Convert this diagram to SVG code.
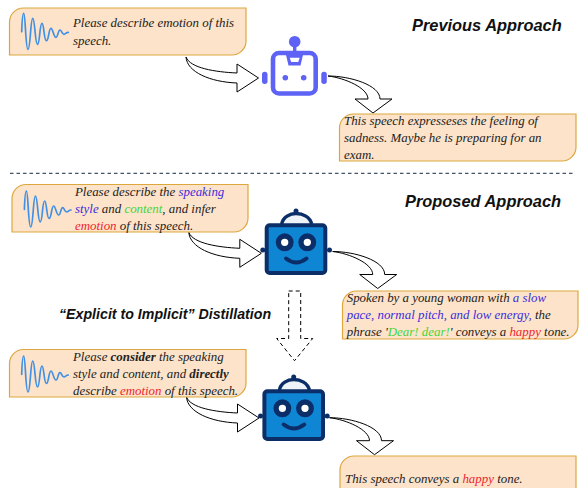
<svg xmlns="http://www.w3.org/2000/svg" xmlns:xlink="http://www.w3.org/1999/xlink" width="580" height="488" viewBox="0 0 580 488">
<style>
.box{fill:#fde3c9;stroke:#dca83e;stroke-width:1.2}
.t{font-family:"Liberation Serif","Times New Roman",serif;font-style:italic;font-size:12.9px;fill:#222}
.h{font-family:"Liberation Sans",Arial,sans-serif;font-style:italic;font-weight:bold;font-size:16.4px;fill:#111}
.h2{font-size:14.2px}
.b{fill:#3a2ddf}.g{fill:#3fd63f}.r{fill:#ee2530}.k{font-weight:bold}
.wave{fill:none;stroke:#4190e6;stroke-width:1.7;stroke-linejoin:round;stroke-linecap:round}
.arrow{fill:#fff;stroke:#000;stroke-width:1;stroke-linejoin:miter}
.dk{fill:#0b2e68}
.pu{fill:#5e63f5}
</style>
<defs>
<path id="wave" class="wave" d="M21.7,31.7 C22,22 22.500,13.300 23.700,13.300 C25.500,13.300 25.500,49.300 28,49.300 C30.500,49.300 30.500,18.300 32.700,18.300 C35,18.300 35,44.300 37.500,44.300 C40,44.300 39.500,23.300 42,23.300 C44,23.300 44,40.700 46.300,40.700 C49,40.700 48.500,28.300 51,28.300 C53,28.300 53.500,37.300 56,37.300 C58,37.300 58,30 60,30 C61.500,30 62,34.300 64,34.300 C65.500,34.300 66,32.300 68.300,32.300"/>
<path id="arrR" class="arrow" d="M186,57 C190,68 215,72 237,73 L237,64 L258.500,78 L237,92 L237,83 C210,82 187,72 186,57 Z"/>
<path id="arrD" class="arrow" d="M328,76 C350,76 380,85 380,99 L392,99 L373,113 L355,99 L368,99 C368,88 345,78 328,76 Z"/>
<g id="bot2">
<path d="M281.700,224 C283,217 290,213.500 296,213.500 C303,213.500 310,217 311.700,224" fill="#eef3f8" stroke="#0b2e68" stroke-width="3.500"/>
<circle class="dk" cx="296" cy="211" r="2.500"/>
<circle class="dk" cx="262.800" cy="250" r="2.500"/>
<circle class="dk" cx="329.500" cy="250" r="2.500"/>
<rect x="266.700" y="225.300" width="58.600" height="47.700" rx="3" fill="#0f86d4" stroke="#0b2e68" stroke-width="4"/>
<circle cx="284.700" cy="242.300" r="6.300" fill="#fff" stroke="#0b2e68" stroke-width="5.300"/>
<circle cx="307.300" cy="242.300" r="6.300" fill="#fff" stroke="#0b2e68" stroke-width="5.300"/>
<path d="M286,258.500 Q296.300,266.500 306.500,258.500" fill="none" stroke="#0b2e68" stroke-width="4" stroke-linecap="round"/>
</g>
</defs>

<g id="connectors">
<use xlink:href="#arrR"/>
<use xlink:href="#arrD"/>
<line x1="10" y1="173.300" x2="573" y2="173.300" stroke="#44546a" stroke-width="1.300" stroke-dasharray="3.500 3"/>
<use xlink:href="#arrR" transform="translate(2.800,175.300)"/>
<use xlink:href="#arrD" transform="translate(4.700,175.500)"/>
<path class="arrow" stroke-dasharray="4 3" d="M288.700,291 H300.700 V338.500 H312.700 L294.500,360.700 L276.700,338.500 H288.700 Z"/>
<use xlink:href="#arrR" transform="translate(0.500,340)"/>
<use xlink:href="#arrD" transform="translate(1.500,341.700)"/>
</g>

<g id="prompt-previous">
<path class="box" d="M23.500,8 H246 V41 A14,14 0 0 1 232,55 H9.500 V22 A14,14 0 0 1 23.500,8 Z"/>
<use xlink:href="#wave"/>
<text class="t" x="73" y="27">Please describe emotion of this</text>
<text class="t" x="73" y="45">speech.</text>
</g>

<g id="robot-previous">
<circle class="pu" cx="294.700" cy="41.700" r="5.800"/>
<rect class="pu" x="293" y="45" width="3.400" height="8"/>
<rect x="273" y="53" width="42.700" height="40.500" rx="6" fill="#fff" stroke="#5e63f5" stroke-width="4.600"/>
<path class="pu" d="M285.300,52 H303.700 L300.500,65.500 H288.500 Z"/>
<path fill="#fff" d="M289.700,57.800 H299.700 L298.200,62 H291.200 Z"/>
<circle class="pu" cx="285.300" cy="77.700" r="2.800"/>
<circle class="pu" cx="303.700" cy="77.700" r="2.800"/>
<rect class="pu" x="262" y="71.700" width="5.500" height="12.300" rx="2.700"/>
<rect class="pu" x="321.300" y="71.700" width="5.500" height="12.300" rx="2.700"/>
</g>

<g id="output-previous">
<path class="box" d="M353.500,114 H576 V147 A14,14 0 0 1 562,161 H339.500 V128 A14,14 0 0 1 353.500,114 Z"/>
<text class="t" x="344" y="125">This speech expresseses the feeling of</text>
<text class="t" x="344" y="142.300">sadness. Maybe he is preparing for an</text>
<text class="t" x="344" y="159.300">exam.</text>
</g>

<g id="prompt-proposed">
<path class="box" d="M26,184.500 H248 V218 A14,14 0 0 1 234,232 H12 V198.500 A14,14 0 0 1 26,184.500 Z"/>
<use xlink:href="#wave" transform="translate(2.700,177.700)"/>
<text class="t" x="75" y="196">Please describe the <tspan class="b">speaking</tspan></text>
<text class="t" x="75" y="212.700"><tspan class="b">style</tspan> and <tspan class="g">content</tspan>, and infer</text>
<text class="t" x="75" y="229.700"><tspan class="r">emotion</tspan> of this speech.</text>
</g>

<g id="robot-proposed"><use xlink:href="#bot2"/></g>

<g id="output-proposed">
<path class="box" d="M356.500,291 H578 V325 A14,14 0 0 1 564,339 H342.500 V305 A14,14 0 0 1 356.500,291 Z"/>
<text class="t" x="346.700" y="301.700">Spoken by a young woman with <tspan class="b">a slow</tspan></text>
<text class="t" x="346.700" y="319"><tspan class="b">pace, normal pitch, and low energy,</tspan> the</text>
<text class="t" x="346.700" y="336">phrase '<tspan class="g">Dear! dear!</tspan>' conveys a <tspan class="r">happy</tspan> tone.</text>
</g>

<g id="prompt-implicit">
<path class="box" d="M23.500,349.500 H246 V383 A14,14 0 0 1 232,397 H9.500 V363.500 A14,14 0 0 1 23.500,349.500 Z"/>
<use xlink:href="#wave" transform="translate(0,342.700)"/>
<text class="t" x="73" y="360.700">Please <tspan class="k">consider</tspan> the speaking</text>
<text class="t" x="73" y="377.700">style and content, and <tspan class="k">directly</tspan></text>
<text class="t" x="73" y="395">describe <tspan class="r">emotion</tspan> of this speech.</text>
</g>

<g id="robot-implicit"><use xlink:href="#bot2" transform="translate(-2.300,166)"/></g>

<g id="output-implicit">
<path class="box" d="M354,456 H576 V503 H340 V470 A14,14 0 0 1 354,456 Z"/>
<text class="t" x="345" y="483.300">This speech conveys a <tspan class="r">happy</tspan> tone.</text>
</g>

<g id="labels">
<text class="h" x="412" y="31">Previous Approach</text>
<text class="h" x="405" y="207">Proposed Approach</text>
<text class="h h2" x="59" y="319">“Explicit to Implicit” Distillation</text>
</g>
</svg>
